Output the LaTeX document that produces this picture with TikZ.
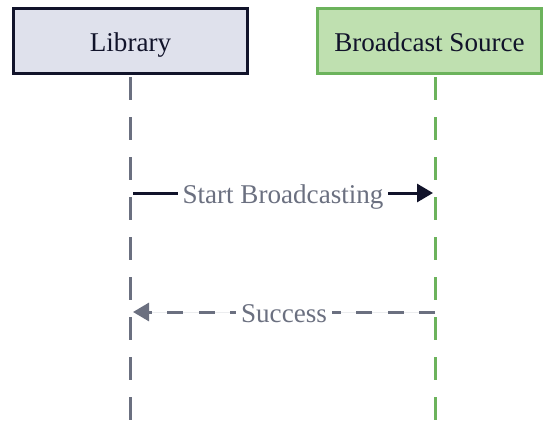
\documentclass[tikz,border=0pt]{standalone}
\usepackage{fontspec}
\setmainfont{Liberation Serif}
\usetikzlibrary{arrows.meta}

\definecolor{libfill}{HTML}{DFE1EC}
\definecolor{libdraw}{HTML}{11132A}
\definecolor{srcfill}{HTML}{BFE0B0}
\definecolor{srcdraw}{HTML}{6CB35C}
\definecolor{msggray}{HTML}{6B7080}

\tikzset{
  actor/.style={draw,line width=3pt,minimum height=65pt,inner sep=0pt,
    text=libdraw,text height=20pt,text depth=0pt,
    font=\fontsize{27.1}{30}\selectfont},
  lifeline/.style={line width=3pt,dash pattern=on 23pt off 17pt},
  msglabel/.style={fill=white,text=msggray,inner sep=5pt,
    text height=20pt,text depth=0pt,font=\fontsize{27.1}{30}\selectfont},
  msgtip/.style={-{Triangle[length=16pt,width=18pt]}}
}

\begin{document}
\begin{tikzpicture}[x=1pt,y=-1pt]
\useasboundingbox (0,0) rectangle (544,426);

\begin{scope}

\coordinate (libtop) at (130,77);
\coordinate (libend) at (130,426);
\coordinate (srctop) at (435,77);
\coordinate (srcend) at (435,426);

\draw[lifeline,draw=msggray] (libtop) -- (libend);
\draw[lifeline,draw=srcdraw] (srctop) -- (srcend);

\node[actor,fill=libfill,draw=libdraw,minimum width=234pt] (lib) at (130.5,41) {Library};
\node[actor,fill=srcfill,draw=srcdraw,minimum width=224pt] (src) at (429.5,41) {Broadcast Source};

\coordinate (startfrom) at (133,193);
\coordinate (startto) at (433,193);
\coordinate (succfrom) at (435,312);
\coordinate (succto) at (133,312);

\draw[msgtip,line width=3pt,draw=libdraw,fill=libdraw] (startfrom) -- node[msglabel] (startlabel) {Start Broadcasting} (startto);
\draw[msgtip,line width=3pt,draw=msggray,fill=msggray,dash pattern=on 16pt off 15.5pt] (succfrom) -- node[msglabel] (succlabel) {Success} (succto);

\end{scope}

\end{tikzpicture}
\end{document}
